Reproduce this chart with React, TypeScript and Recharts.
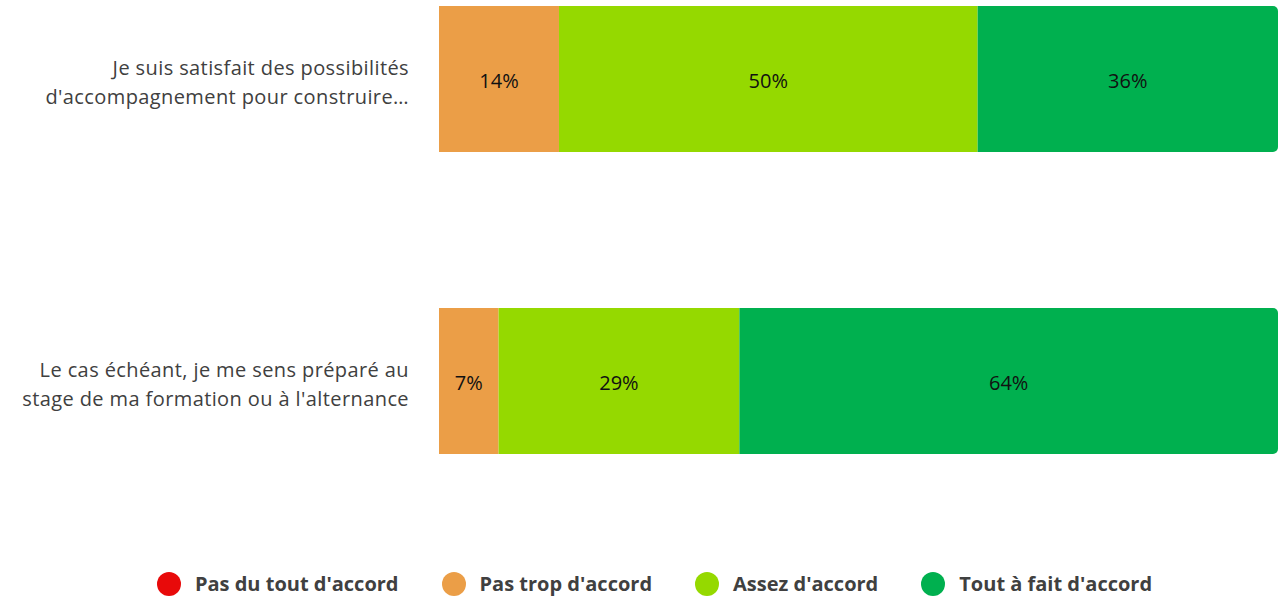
import { Bar, BarChart, LabelList, XAxis, YAxis } from 'recharts';

const categories = [
    "Je suis satisfait des possibilités\nd'accompagnement pour construire…",
    "Le cas échéant, je me sens préparé au\nstage de ma formation ou à l'alternance",
];
const pasDuTout = [0, 0];
const pasTrop = [14.3, 7.1];
const assez = [49.9, 28.7];
const toutAFait = [35.8, 64.2];

const seriesNames = ['Pas du tout d\'accord', 'Pas trop d\'accord', 'Assez d\'accord', 'Tout à fait d\'accord'];
const seriesKeys = ['pasDuTout', 'pasTrop', 'assez', 'toutAFait'];
const seriesColors = ['#E80A0A', '#EB9E47', '#95D900', '#00B04F'];

const data = categories.map((cat, i) => ({
    cat,
    pasDuTout: pasDuTout[i],
    pasTrop: pasTrop[i],
    assez: assez[i],
    toutAFait: toutAFait[i],
}));

const FONT = '"Open Sans", Lato, sans-serif';

function CategoryTick(props: any) {
    const { x, y, payload } = props;
    const lines: string[] = String(payload.value).split('\n');
    return (
        <text x={x} y={y} textAnchor="end" fill="#404040" fontSize={20} letterSpacing={0.4}>
            {lines.map((line, i) => (
                <tspan key={i} x={x} y={y - 4 + i * 28.5}>
                    {line}
                </tspan>
            ))}
        </text>
    );
}

const pct = (v: any) => (Number(v) > 0 ? `${Math.round(Number(v))}%` : '');

export default function App() {
    return (
        <div
            style={{
                position: 'absolute',
                left: 0,
                top: 0,
                width: 1285,
                height: 597,
                overflow: 'hidden',
                background: '#fff',
                fontFamily: FONT,
            }}
        >
            <div style={{ position: 'absolute', left: 0, top: -72 }}>
                <BarChart
                    layout="vertical"
                    width={1285}
                    height={669}
                    data={data}
                    barSize={146}
                    margin={{ top: 0, right: 7, left: 0, bottom: 65 }}
                >
                    <XAxis type="number" domain={[0, 100]} hide />
                    <YAxis
                        type="category"
                        dataKey="cat"
                        width={439}
                        axisLine={false}
                        tickLine={false}
                        tickSize={0}
                        tickMargin={30}
                        tick={<CategoryTick />}
                        interval={0}
                    />
                    {seriesKeys.map((key, i) => (
                        <Bar
                            key={key}
                            dataKey={key}
                            name={seriesNames[i]}
                            stackId="a"
                            fill={seriesColors[i]}
                            radius={i === seriesKeys.length - 1 ? [0, 5, 5, 0] : 0}
                            isAnimationActive={false}
                        >
                            <LabelList
                                dataKey={key}
                                position="center"
                                formatter={pct}
                                fill="#111"
                                fontSize={20}
                                dy={2}
                            />
                        </Bar>
                    ))}
                </BarChart>
            </div>
            <div
                style={{
                    position: 'absolute',
                    left: 24,
                    top: 570,
                    width: 1261,
                    display: 'flex',
                    justifyContent: 'center',
                    alignItems: 'center',
                    gap: 43,
                }}
            >
                {seriesNames.map((name, i) => (
                    <div key={name} style={{ display: 'flex', alignItems: 'center' }}>
                        <span
                            style={{
                                width: 24,
                                height: 24,
                                borderRadius: 12,
                                background: seriesColors[i],
                                marginRight: 14,
                                display: 'inline-block',
                            }}
                        />
                        <span style={{ fontWeight: 700, fontSize: 20, color: '#404040', lineHeight: '28px' }}>
                            {name}
                        </span>
                    </div>
                ))}
            </div>
        </div>
    );
}
